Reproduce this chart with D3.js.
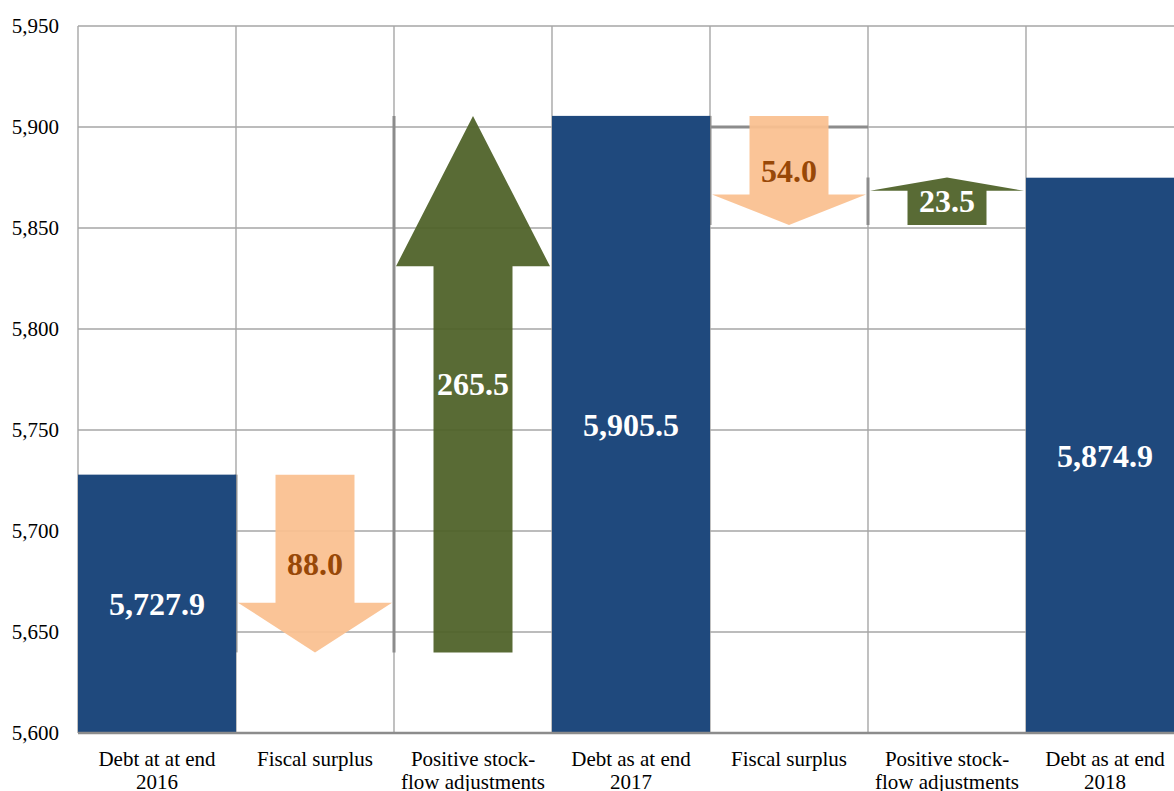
<!DOCTYPE html>
<html>
<head>
<meta charset="utf-8">
<script src="https://cdn.jsdelivr.net/npm/d3@7"></script>
<style>
  html, body { margin: 0; padding: 0; background: #fff; }
  svg { display: block; }
</style>
</head>
<body>
<svg id="chart" width="1174" height="791"></svg>
<script>
// ---- data ----
const categories = [
  "Debt at at end 2016",
  "Fiscal surplus",
  "Positive stock-flow adjustments",
  "Debt as at end 2017",
  "Fiscal surplus",
  "Positive stock-flow adjustments",
  "Debt as at end 2018"
];
const categoryLines = [
  ["Debt at at end", "2016"],
  ["Fiscal surplus"],
  ["Positive stock-", "flow adjustments"],
  ["Debt as at end", "2017"],
  ["Fiscal surplus"],
  ["Positive stock-", "flow adjustments"],
  ["Debt as at end", "2018"]
];
const values = [5727.9, -88.0, 265.5, 5905.5, -54.0, 23.5, 5874.9];
const kinds = ["total", "change", "change", "total", "change", "change", "total"];
const valueLabels = ["5,727.9", "88.0", "265.5", "5,905.5", "54.0", "23.5", "5,874.9"];
const yTicks = [5600, 5650, 5700, 5750, 5800, 5850, 5900, 5950];
const yDomain = [5600, 5950];

(function () {
// ---- layout ----
const svg = d3.select("#chart");
const pLeft = 78, pRight = 1184, pTop = 26, pBottom = 733;
const x = d3.scaleBand().domain(d3.range(categories.length)).range([pLeft, pRight]).padding(0);
const y = d3.scaleLinear().domain(yDomain).range([pBottom, pTop]);
const bw = x.bandwidth();

const BLUE = "#1f497d", GREEN = "#4f6228", ORANGE = "#fac090", BROWN = "#984807";
const GRID = "#a6a6a6";
const FONT = "'Liberation Serif', 'Times New Roman', serif";

// waterfall computation
let running = 0;
const items = values.map((v, i) => {
  if (kinds[i] === "total") { running = v; return { i, kind: "total", v0: yDomain[0], v1: v }; }
  const start = running; running = running + v;
  return { i, kind: "change", v0: start, v1: running, up: v > 0 };
});

svg.append("rect").attr("width", 1174).attr("height", 791).attr("fill", "#fff");

// horizontal gridlines
svg.append("g").selectAll("line").data(yTicks).join("line")
  .attr("x1", pLeft).attr("x2", pRight)
  .attr("y1", d => y(d)).attr("y2", d => y(d))
  .attr("stroke", GRID).attr("stroke-width", 1.4);

// vertical gridlines at category boundaries
svg.append("g").selectAll("line").data(d3.range(categories.length)).join("line")
  .attr("x1", d => x(d)).attr("x2", d => x(d))
  .attr("y1", pTop).attr("y2", pBottom)
  .attr("stroke", GRID).attr("stroke-width", 1.4);

// arrows
function arrowPath(d) {
  const cx = x(d.i) + bw / 2;
  const sw = bw * 0.25, hw = bw / 2 - 2;
  const yStart = y(d.v0), yTip = y(d.v1);
  const L = Math.abs(yTip - yStart), headL = 0.28 * L;
  const dir = yTip > yStart ? 1 : -1; // 1 = pointing down
  const yHead = yTip - dir * headL;
  return `M${cx - sw},${yStart} L${cx + sw},${yStart} L${cx + sw},${yHead} L${cx + hw},${yHead} L${cx},${yTip} L${cx - hw},${yHead} L${cx - sw},${yHead} Z`;
}
const changes = items.filter(d => d.kind === "change");

// darker frame segments on the left edge of each change column
svg.append("g").selectAll("line").data(changes).join("line")
  .attr("x1", d => x(d.i)).attr("x2", d => x(d.i))
  .attr("y1", d => y(Math.max(d.v0, d.v1))).attr("y2", d => y(Math.min(d.v0, d.v1)))
  .attr("stroke", "#8c8c8c").attr("stroke-width", 3);
// darker gridline segment in the 2018 fiscal surplus column
svg.append("line")
  .attr("x1", x(4)).attr("x2", x(4) + bw)
  .attr("y1", y(5900)).attr("y2", y(5900))
  .attr("stroke", "#8c8c8c").attr("stroke-width", 3);

svg.append("g").selectAll("path").data(changes).join("path")
  .attr("d", arrowPath)
  .attr("fill", d => d.up ? GREEN : ORANGE)
  .attr("fill-opacity", 0.94);

// bars
svg.append("g").selectAll("rect").data(items.filter(d => d.kind === "total")).join("rect")
  .attr("x", d => x(d.i)).attr("width", bw)
  .attr("y", d => y(d.v1)).attr("height", d => y(d.v0) - y(d.v1))
  .attr("fill", BLUE);

// axis line
svg.append("line").attr("x1", pLeft).attr("x2", pRight).attr("y1", pBottom).attr("y2", pBottom)
  .attr("stroke", "#8c8c8c").attr("stroke-width", 2.5);

// y axis labels
const yAxis = d3.axisLeft(y).tickValues(yTicks).tickFormat(d3.format(",")).tickSize(0).tickPadding(19);
const gy = svg.append("g").attr("transform", `translate(${pLeft},0)`).call(yAxis);
gy.select(".domain").remove();
gy.selectAll("text").attr("font-family", FONT).attr("font-size", 21).attr("fill", "#000");

// value labels
svg.append("g").selectAll("text").data(items).join("text")
  .attr("x", d => x(d.i) + bw / 2)
  .attr("y", d => y((d.v0 + d.v1) / 2))
  .attr("dy", "0.35em")
  .attr("text-anchor", "middle")
  .attr("font-family", FONT).attr("font-weight", "bold").attr("font-size", 32)
  .attr("fill", d => (d.kind === "change" && !d.up) ? BROWN : "#fff")
  .text(d => valueLabels[d.i]);

// category labels
const cat = svg.append("g").selectAll("text").data(d3.range(categories.length)).join("text")
  .attr("text-anchor", "middle")
  .attr("font-family", FONT).attr("font-size", 21).attr("fill", "#000");
cat.selectAll("tspan").data(i => categoryLines[i].map(t => ({ i, t }))).join("tspan")
  .attr("x", d => x(d.i) + bw / 2)
  .attr("y", (d, k) => 766 + k * 23)
  .text(d => d.t);
})();
</script>
</body>
</html>
